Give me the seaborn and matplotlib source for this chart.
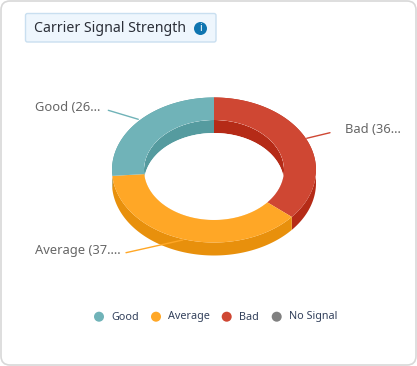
import numpy as np
import pandas as pd
import matplotlib
matplotlib.use("Agg")
import matplotlib.pyplot as plt
import seaborn as sns
from matplotlib.patches import FancyBboxPatch, Ellipse, Circle

categories = ["Bad", "Average", "Good"]
values = [36.2, 37.5, 26.3]
slice_labels = ["Bad (36...", "Average (37....", "Good (26..."]
legend_labels = ["Good", "Average", "Bad", "No Signal"]
legend_colors = ["#70b3b8", "#ffa726", "#cf4733", "#808080"]
top_colors = {"Bad": "#cf4733", "Average": "#ffa726", "Good": "#70b3b8"}
wall_colors = {"Bad": "#b52b17", "Average": "#e8900c", "Good": "#559b9f"}

sns.set_style("white")
plt.rcParams["font.family"] = ["Noto Sans", "DejaVu Sans"]

CX, CY = 214, 170
RX, RY = 102, 72.5
IRX, IRY = 70, 50
DEPTH = 13


def arc(rx, ry, a0, a1, dy=0):
    t = np.radians(np.linspace(a0, a1, 120))
    return CX + rx * np.sin(t), CY + dy - ry * np.cos(t)


def draw_donut(ax):
    edges = np.concatenate([[0], np.cumsum(values)]) / np.sum(values) * 360
    spans = list(zip(categories, edges[:-1], edges[1:]))

    # outer side walls first, top faces go over them
    for name, a0, a1 in spans:
        x0, y0 = arc(RX, RY, a0, a1)
        x1, y1 = arc(RX, RY, a0, a1, DEPTH)
        ax.fill(np.r_[x0, x1[::-1]], np.r_[y0, y1[::-1]], color=wall_colors[name], lw=0, zorder=2)

    # inner walls, only the part seen through the hole
    hole = Ellipse((CX, CY), 2 * IRX, 2 * IRY, fc="white", ec="none", zorder=3)
    ax.add_patch(hole)
    for name, a0, a1 in spans:
        x0, y0 = arc(IRX, IRY, a0, a1)
        x1, y1 = arc(IRX, IRY, a0, a1, DEPTH)
        poly = ax.fill(np.r_[x0, x1[::-1]], np.r_[y0, y1[::-1]], color=wall_colors[name], lw=0, zorder=4)[0]
        poly.set_clip_path(hole)
    floor = Ellipse((CX, CY + DEPTH), 2 * IRX, 2 * IRY, fc="white", ec="none", zorder=5)
    ax.add_patch(floor)
    floor.set_clip_path(hole)

    for name, a0, a1 in spans:
        x0, y0 = arc(RX, RY, a0, a1)
        x1, y1 = arc(IRX, IRY, a0, a1)
        ax.fill(np.r_[x0, x1[::-1]], np.r_[y0, y1[::-1]], color=top_colors[name], lw=0, zorder=6)


fig = plt.figure(figsize=(4.17, 3.66), dpi=100, facecolor="white")
ax = fig.add_axes([0, 0, 1, 1])
ax.set_xlim(0, 417)
ax.set_ylim(366, 0)
ax.axis("off")

# card and title box
ax.add_patch(FancyBboxPatch((1, 1), 415, 364, boxstyle="round,pad=0,rounding_size=9",
                            fc="white", ec="#d8d8d8", lw=1.2, zorder=0))
ax.add_patch(FancyBboxPatch((25.5, 13.5), 190.5, 28.5, boxstyle="round,pad=0,rounding_size=2",
                            fc="#eef6fd", ec="#c9dff0", lw=1, zorder=1))
ax.text(34, 29, "Carrier Signal Strength", fontsize=10.2, color="#2b2f38", va="center", zorder=2)
ax.add_patch(Circle((200.5, 28.5), 6.5, fc="#0f75b0", ec="none", zorder=2))
ax.text(200.5, 28.5, "i", fontsize=7.5, fontweight="bold", color="white", ha="center", va="center", zorder=3)

draw_donut(ax)

# connector lines and slice labels, same order as categories
label_pos = [(345, 129.5, "left"), (35, 250.5, "left"), (35, 107.5, "left")]
connectors = [((306.7, 330), (138.3, 132.7)), ((126, 182.7), (252.7, 240)), ((108.3, 138.3), (110.3, 119.3))]
for name, text, (tx, ty, ha), (lx, ly) in zip(categories, slice_labels, label_pos, connectors):
    ax.plot(lx, ly, color=top_colors[name], lw=1, zorder=7)
    ax.text(tx, ty, text, fontsize=9.3, color="#666666", ha=ha, va="center", zorder=8)

# legend
legend_x = [99, 156, 226.7, 276.7]
text_x = [111.3, 168, 239, 289]
legend_df = pd.DataFrame({"x": legend_x, "y": [316.7] * 4, "label": legend_labels})
sns.scatterplot(data=legend_df, x="x", y="y", hue="label", palette=legend_colors, s=52,
                linewidth=0, legend=False, ax=ax, zorder=8)
for tx, text in zip(text_x, legend_labels):
    ax.text(tx, 317, text, fontsize=7.8, color="#33415c", va="center", zorder=8)

ax.set_xlim(0, 417)
ax.set_ylim(366, 0)
ax.axis("off")
fig.savefig("out.png", dpi=100, facecolor="white")
